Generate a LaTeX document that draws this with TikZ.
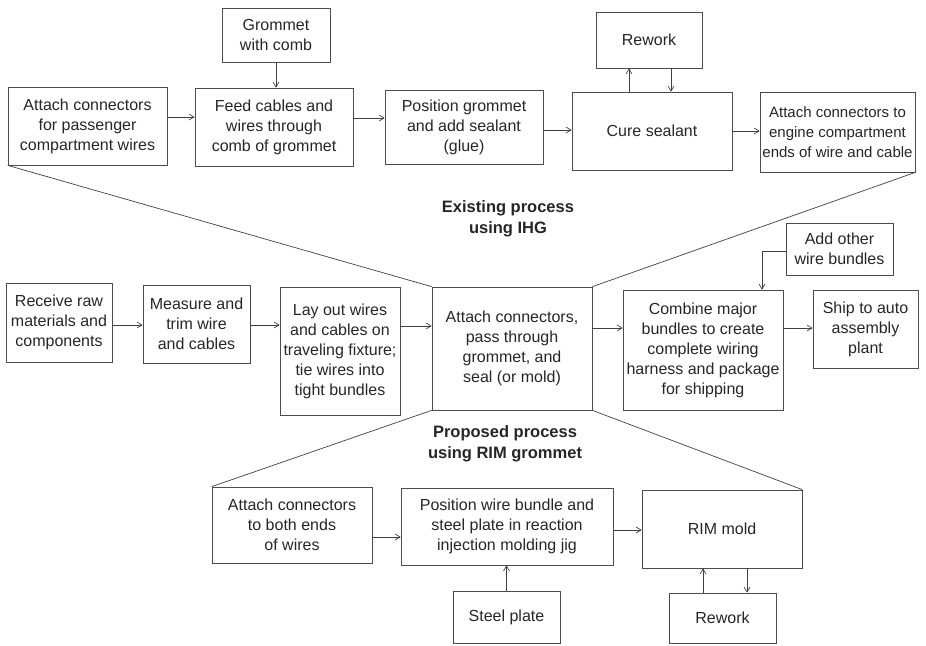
\documentclass[tikz,border=0pt]{standalone}
\usepackage{fontspec}
\setmainfont{Liberation Sans}
\usetikzlibrary{arrows.meta}
\begin{document}
\begin{tikzpicture}[x=1pt,y=-1pt,
  box/.style={draw=black!70,line width=0.7pt,align=center,inner sep=0pt,font=\fontsize{16}{20}\selectfont,text=black!85},
  arr/.style={draw=black!75,line width=0.7pt,-{Straight Barb[length=5pt,width=6pt]}},
  edgeline/.style={draw=black!75,line width=0.7pt},
  lbl/.style={align=center,font=\bfseries\fontsize{16.5}{21}\selectfont,text=black!85}]
\useasboundingbox (0,0) rectangle (926,645);

% top row (existing process)
\node[box,minimum width=108pt,minimum height=54pt] (gwc) at (276,35) {Grommet\\with comb};
\node[box,minimum width=159pt,minimum height=78pt] (ap) at (87.5,126) {Attach connectors\\for passenger\\compartment wires};
\node[box,minimum width=158pt,minimum height=78pt] (fc) at (274,127) {Feed cables and\\wires through\\comb of grommet};
\node[box,minimum width=158pt,minimum height=74pt] (pg) at (464,127) {Position grommet\\and add sealant\\(glue)};
\node[box,minimum width=160pt,minimum height=78pt] (cs) at (652,131) {Cure sealant};
\node[box,minimum width=106pt,minimum height=56pt] (rw1) at (649,40) {Rework};
\node[box,minimum width=155pt,minimum height=80pt,font=\fontsize{15}{20}\selectfont] (ae) at (837.5,132) {Attach connectors to\\engine compartment\\ends of wire and cable};

% middle row
\node[box,minimum width=106pt,minimum height=79pt] (rr) at (59,322.5) {Receive raw\\materials and\\components};
\node[box,minimum width=107pt,minimum height=78pt] (mt) at (196.5,324) {Measure and\\trim wire\\and cables};
\node[box,minimum width=120pt,minimum height=128pt] (lo) at (340,351) {Lay out wires\\and cables on\\traveling fixture;\\tie wires into\\tight bundles};
\node[box,minimum width=160pt,minimum height=123pt] (ac) at (512,348.5) {Attach connectors,\\pass through\\grommet, and\\seal (or mold)};
\node[box,minimum width=160pt,minimum height=120pt] (cm) at (703,350) {Combine major\\bundles to create\\complete wiring\\harness and package\\for shipping};
\node[box,minimum width=105pt,minimum height=78pt] (sa) at (865.5,329) {Ship to auto\\assembly\\plant};
\node[box,minimum width=107pt,minimum height=52pt] (ao) at (839.5,249) {Add other\\wire bundles};

% bottom row (proposed process)
\node[box,minimum width=160pt,minimum height=76pt] (ab) at (292,525) {Attach connectors\\to both ends\\of wires};
\node[box,minimum width=212pt,minimum height=77pt] (pw) at (507,526.5) {Position wire bundle and\\steel plate in reaction\\injection molding jig};
\node[box,minimum width=160pt,minimum height=78pt] (rm) at (722,529) {RIM mold};
\node[box,minimum width=107pt,minimum height=52pt] (sp) at (506.5,617) {Steel plate};
\node[box,minimum width=107pt,minimum height=50pt] (rw2) at (722.5,618) {Rework};

% labels
\node[lbl] (l1) at (508,219) {Existing process\\using IHG};
\node[lbl] (l2) at (505,444) {Proposed process\\using RIM grommet};

% top arrows
\draw[arr] ([yshift=9pt]ap.east) -- ([yshift=9pt]ap.east -| fc.west);
\draw[arr] ([yshift=9pt]fc.east) -- ([yshift=9pt]fc.east -| pg.west);
\draw[arr] ([yshift=-3pt]pg.east) -- ([yshift=-3pt]pg.east -| cs.west);
\draw[arr] (cs.east) -- (cs.east -| ae.west);
\draw[arr] (gwc.south) -- (gwc.south |- fc.north);
\draw[arr] ([xshift=-23pt]cs.north) -- ([xshift=-23pt]cs.north |- rw1.south);
\draw[arr] ([xshift=22pt]rw1.south) -- ([xshift=22pt]rw1.south |- cs.north);

% middle arrows
\draw[arr] ([yshift=-2.5pt]rr.east) -- ([yshift=-2.5pt]rr.east -| mt.west);
\draw[arr] ([yshift=-1pt]mt.east) -- ([yshift=-1pt]mt.east -| lo.west);
\draw[arr] ([yshift=25pt]lo.east) -- ([yshift=25pt]lo.east -| ac.west);
\draw[arr] ([yshift=20.5pt]ac.east) -- ([yshift=20.5pt]ac.east -| cm.west);
\draw[arr] ([yshift=22pt]cm.east) -- ([yshift=22pt]cm.east -| sa.west);
\draw[arr] ([yshift=-2pt]ao.west) -| ([xshift=59pt]cm.north);

% bottom arrows
\draw[arr] ([yshift=-12pt]ab.east) -- ([yshift=-12pt]ab.east -| pw.west);
\draw[arr] ([yshift=-3.5pt]pw.east) -- ([yshift=-3.5pt]pw.east -| rm.west);
\draw[arr] (sp.north) -- (sp.north |- pw.south);
\draw[arr] ([xshift=-19.5pt]rw2.north) -- ([xshift=-19.5pt]rw2.north |- rm.south);
\draw[arr] ([xshift=25pt]rm.south) -- ([xshift=25pt]rm.south |- rw2.north);

% expansion lines
\draw[edgeline] (ap.south west) -- (ac.north west);
\draw[edgeline] (ae.south east) -- (ac.north east);
\draw[edgeline] (ac.south west) -- (ab.north west);
\draw[edgeline] (ac.south east) -- (rm.north east);
\end{tikzpicture}
\end{document}
